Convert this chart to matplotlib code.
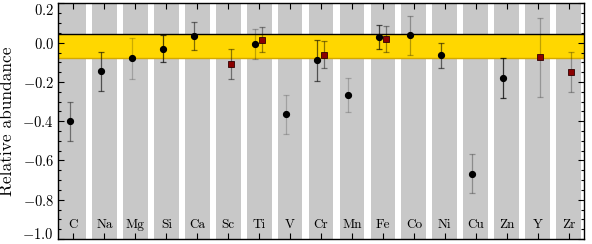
import numpy as np
import matplotlib
matplotlib.use('Agg')
import matplotlib.pyplot as plt

plt.rcParams['font.family'] = 'cmr10'
plt.rcParams['mathtext.fontset'] = 'cm'
plt.rcParams['axes.formatter.use_mathtext'] = True

# element names along the x axis
elements = ['C', 'Na', 'Mg', 'Si', 'Ca', 'Sc', 'Ti', 'V', 'Cr', 'Mn',
            'Fe', 'Co', 'Ni', 'Cu', 'Zn', 'Y', 'Zr']

# black circles
circ_elem = ['C', 'Na', 'Mg', 'Si', 'Ca', 'Ti', 'V', 'Cr', 'Mn', 'Fe', 'Co', 'Ni', 'Cu', 'Zn']
circ_val = [-0.40, -0.145, -0.08, -0.03, 0.035, -0.007, -0.365, -0.09, -0.267, 0.03, 0.038, -0.065, -0.667, -0.18]
circ_err = [0.10, 0.10, 0.105, 0.07, 0.072, 0.077, 0.10, 0.105, 0.085, 0.06, 0.10, 0.065, 0.10, 0.10]

# red squares
sq_elem = ['Sc', 'Ti', 'Cr', 'Fe', 'Y', 'Zr']
sq_val = [-0.108, 0.015, -0.06, 0.018, -0.075, -0.149]
sq_err = [0.078, 0.064, 0.07, 0.067, 0.20, 0.10]

# solar band
band_lo, band_hi = -0.08, 0.044

# error bar darkness per point (style)
circ_alpha = [0.45, 0.6, 0.2, 0.7, 0.5, 0.25, 0.2, 0.6, 0.2, 0.65, 0.3, 0.55, 0.3, 0.75]
sq_alpha = [0.45, 0.4, 0.45, 0.4, 0.25, 0.3]

xpos = {el: i + 1 for i, el in enumerate(elements)}

fig = plt.figure(figsize=(5.92, 2.44), dpi=100)
ax = fig.add_axes([0.098, 0.0205, 0.8885, 0.9652])

for i in range(len(elements)):
    lo = i + 1 - 0.4
    if i == 0:
        lo = 0.5
    ax.axvspan(lo, i + 1 + 0.4, color='#c8c8c8', lw=0, zorder=0)

ax.axhspan(band_lo, band_hi, facecolor='#ffd700', lw=0, zorder=1)
ax.axhline(band_hi, color='black', lw=1.0, zorder=1.5)
ax.axhline(band_lo, color='#d4a800', lw=1.0, zorder=1.5)

for el, v, e, a in zip(circ_elem, circ_val, circ_err, circ_alpha):
    ax.errorbar(xpos[el] - 0.12, v, yerr=e, fmt='none', ecolor='black', alpha=a,
                elinewidth=0.9, capsize=2, capthick=0.9, zorder=2)
    ax.plot(xpos[el] - 0.12, v, 'o', color='black', ms=4.2, zorder=3)

for el, v, e, a in zip(sq_elem, sq_val, sq_err, sq_alpha):
    ax.errorbar(xpos[el] + 0.09, v, yerr=e, fmt='none', ecolor='black', alpha=a,
                elinewidth=0.9, capsize=2, capthick=0.9, zorder=2)
    ax.plot(xpos[el] + 0.09, v, 's', color='#8b0000', mec='#300000', mew=0.6, ms=4.8, zorder=3)

for el in elements:
    ax.text(xpos[el], -0.93, el, ha='center', va='center', fontsize=9.5)

ax.set_xlim(0.5, len(elements) + 0.5)
ax.set_ylim(-1.0, 0.2)
ax.set_xticks(np.arange(1, len(elements) + 1))
ax.set_xticklabels([])
ax.set_yticks(np.round(np.arange(-1.0, 0.21, 0.2), 1))
ax.set_yticks(np.arange(-1.0, 0.2, 0.05), minor=True)
ax.tick_params(axis='both', which='major', direction='in', top=True, right=True,
               length=4, width=0.8, labelsize=10.5, pad=3)
ax.tick_params(axis='y', which='minor', direction='in', left=True, right=True,
               length=2, width=0.8)
ax.yaxis.get_major_ticks()[-1].label1.set_va('top')
ax.yaxis.get_major_ticks()[0].label1.set_va('baseline')
ax.set_ylabel('Relative abundance', fontsize=12.5, labelpad=5)
for s in ax.spines.values():
    s.set_linewidth(1.0)

plt.savefig('out.png', dpi=100)
